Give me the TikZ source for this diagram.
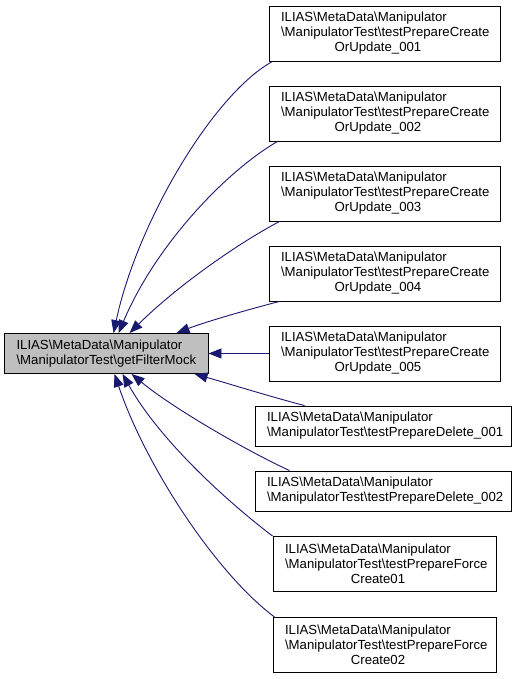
\documentclass[tikz,border=0pt]{standalone}
\usepackage{fontspec}
\setmainfont{Liberation Sans}
\usetikzlibrary{arrows.meta}
\definecolor{edgeblue}{HTML}{191970}
\definecolor{rootgrey}{HTML}{BFBFBF}
\newcommand\bsl{\textbackslash}
\newcommand\ctrline[1]{\makebox[\linewidth][c]{\hspace*{-13pt}#1}}
\begin{document}
\begin{tikzpicture}[x=1pt,y=-1pt,
  box/.style={draw=black, line width=0.9pt, fill=white, inner xsep=12pt, inner ysep=0pt,
    align=left, font=\fontsize{13.2}{15}\selectfont, minimum height=#1},
  edge/.style={draw=edgeblue, line width=0.9pt, -{Triangle[length=13pt,width=10pt]}}]
\useasboundingbox (0,0) rectangle (517,679);
\node[box=40pt, fill=rootgrey, text width=179.5pt] (r) at (106.25,353.5)
  {ILIAS\bsl MetaData\bsl Manipulator\\\bsl ManipulatorTest\bsl getFilterMock};
\node[box=55pt, text width=207pt] (n1) at (384.5,33.5)
  {ILIAS\bsl MetaData\bsl Manipulator\\\bsl ManipulatorTest\bsl testPrepareCreate\\\ctrline{OrUpdate\_001}};
\node[box=55pt, text width=207pt] (n2) at (384.5,113.5)
  {ILIAS\bsl MetaData\bsl Manipulator\\\bsl ManipulatorTest\bsl testPrepareCreate\\\ctrline{OrUpdate\_002}};
\node[box=55pt, text width=207pt] (n3) at (384.5,193.5)
  {ILIAS\bsl MetaData\bsl Manipulator\\\bsl ManipulatorTest\bsl testPrepareCreate\\\ctrline{OrUpdate\_003}};
\node[box=55pt, text width=207pt] (n4) at (384.5,273.5)
  {ILIAS\bsl MetaData\bsl Manipulator\\\bsl ManipulatorTest\bsl testPrepareCreate\\\ctrline{OrUpdate\_004}};
\node[box=55pt, text width=207pt] (n5) at (384.5,353.5)
  {ILIAS\bsl MetaData\bsl Manipulator\\\bsl ManipulatorTest\bsl testPrepareCreate\\\ctrline{OrUpdate\_005}};
\node[box=40pt, text width=232.5pt] (n6) at (383.25,426)
  {ILIAS\bsl MetaData\bsl Manipulator\\\bsl ManipulatorTest\bsl testPrepareDelete\_001};
\node[box=40pt, text width=232.5pt] (n7) at (383.25,491)
  {ILIAS\bsl MetaData\bsl Manipulator\\\bsl ManipulatorTest\bsl testPrepareDelete\_002};
\node[box=55pt, text width=199pt] (n8) at (384.5,564)
  {ILIAS\bsl MetaData\bsl Manipulator\\\bsl ManipulatorTest\bsl testPrepareForce\\\ctrline{Create01}};
\node[box=55pt, text width=199pt] (n9) at (384.5,645)
  {ILIAS\bsl MetaData\bsl Manipulator\\\bsl ManipulatorTest\bsl testPrepareForce\\\ctrline{Create02}};
\draw[edge] ([xshift=4pt]n1.south west) .. controls (213,94) and (137,223) .. ([xshift=109.5pt]r.north west);
\draw[edge] ([xshift=9pt]n2.south west) .. controls (228,170) and (156.7,243) .. ([xshift=114.5pt]r.north west);
\draw[edge] ([xshift=11pt]n3.south west) .. controls (235,245) and (175,288) .. ([xshift=125.5pt]r.north west);
\draw[edge] ([xshift=11pt]n4.south west) .. controls (250,309) and (205,322) .. ([xshift=172.5pt]r.north west);
\draw[edge] (n5.west) -- (r.east);
\draw[edge] ([xshift=50pt]n6.north west) .. controls (268,396) and (230,384) .. ([xshift=190.5pt]r.south west);
\draw[edge] ([xshift=35pt]n7.north west) .. controls (245,450) and (172,407.5) .. ([xshift=127.5pt]r.south west);
\draw[edge] (n8.north west) .. controls (222,497.5) and (158,437.5) .. ([xshift=118.5pt]r.south west);
\draw[edge] ([xshift=2pt]n9.north west) .. controls (215,572.5) and (145,464.5) .. ([xshift=110.5pt]r.south west);
\end{tikzpicture}
\end{document}
